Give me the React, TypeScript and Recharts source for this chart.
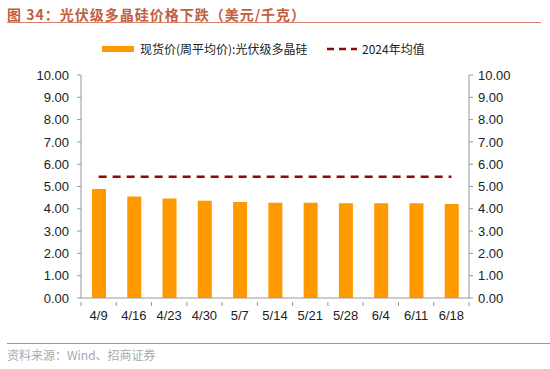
import React from "react";
import { Bar, ComposedChart, Line, XAxis, YAxis } from "recharts";

const weeks = ["4/9", "4/16", "4/23", "4/30", "5/7", "5/14", "5/21", "5/28", "6/4", "6/11", "6/18"];
const spotPrice = [4.89, 4.55, 4.46, 4.36, 4.3, 4.27, 4.27, 4.25, 4.25, 4.25, 4.21];
const avg2024 = 5.44;
const yTicks = [0, 1, 2, 3, 4, 5, 6, 7, 8, 9, 10];

const PLOT_LEFT = 81;
const PLOT_RIGHT = 469;
const BAND = (PLOT_RIGHT - PLOT_LEFT) / weeks.length;

const chartData = weeks.map((w, i) => ({ week: w, spot: spotPrice[i], avg: avg2024 }));

const font = "'Liberation Sans', Arial, sans-serif";
const cjk = "'Noto Sans CJK SC', sans-serif";

function WeekTick(props: any) {
  const { x, y, payload, index } = props;
  const left = x - BAND / 2;
  return (
    <g>
      <line x1={left} y1={y - 4} x2={left} y2={y} stroke="#999" />
      {index === weeks.length - 1 && (
        <line x1={x + BAND / 2} y1={y - 4} x2={x + BAND / 2} y2={y} stroke="#999" />
      )}
      <text x={x} y={y + 14} textAnchor="middle" fill="#222" fontSize={13} fontFamily={font}>
        {payload.value}
      </text>
    </g>
  );
}

export default function App() {
  return (
    <div style={{ position: "absolute", left: 0, top: 0, width: 550, height: 369, background: "#fff", fontFamily: font }}>
      <div style={{ position: "absolute", left: 7, top: 4, fontSize: 14, fontWeight: 700, color: "#C0603F", fontFamily: cjk, letterSpacing: 1 }}>
        图 34：光伏级多晶硅价格下跌（美元/千克）
      </div>
      <div style={{ position: "absolute", left: 7, right: 9, top: 22, borderTop: "1.5px solid #D9826A" }} />

      <div style={{ position: "absolute", left: 102, top: 40, display: "flex", alignItems: "center", fontSize: 12, color: "#222", fontFamily: cjk }}>
        <span style={{ display: "inline-block", width: 32, height: 6, background: "#FF9900", marginRight: 6 }} />
        现货价(周平均价):光伏级多晶硅
      </div>
      <div style={{ position: "absolute", left: 327, top: 40, display: "flex", alignItems: "center", fontSize: 12, color: "#222", fontFamily: cjk }}>
        <svg width={32} height={6} style={{ marginRight: 3 }}>
          <line x1={0} y1={3} x2={30} y2={3} stroke="#8B0A0A" strokeWidth={2.5} strokeDasharray="7 5" />
        </svg>
        2024年均值
      </div>

      <div style={{ position: "absolute", left: 0, top: 0 }}>
        <ComposedChart
          width={550}
          height={330}
          data={chartData}
          margin={{ top: 75, right: 0, left: 0, bottom: 7 }}
        >
          <XAxis
            dataKey="week"
            tick={<WeekTick />}
            tickLine={false}
            axisLine={{ stroke: "#999" }}
            height={25}
            interval={0}
          />
          <YAxis
            yAxisId="left"
            domain={[0, 10]}
            ticks={yTicks}
            width={PLOT_LEFT}
            tickFormatter={(v: number) => v.toFixed(2)}
            tick={{ fill: "#222", fontSize: 13, fontFamily: font }}
            tickLine={{ stroke: "#999" }}
            tickSize={4}
            tickMargin={8}
            axisLine={{ stroke: "#999" }}
            interval={0}
          />
          <YAxis
            yAxisId="right"
            orientation="right"
            domain={[0, 10]}
            ticks={yTicks}
            width={550 - PLOT_RIGHT}
            tickFormatter={(v: number) => v.toFixed(2)}
            tick={{ fill: "#222", fontSize: 13, fontFamily: font }}
            tickLine={{ stroke: "#999" }}
            tickSize={4}
            tickMargin={5}
            axisLine={{ stroke: "#999" }}
            interval={0}
          />
          <Bar yAxisId="left" dataKey="spot" fill="#FF9900" barSize={14} isAnimationActive={false} />
          <Line
            yAxisId="left"
            dataKey="avg"
            stroke="#8B0A0A"
            strokeWidth={2.5}
            strokeDasharray="8 6"
            dot={false}
            isAnimationActive={false}
          />
          {/* keeps the right axis alive; draws nothing visible */}
          <Line
            yAxisId="right"
            dataKey="avg"
            stroke="transparent"
            dot={false}
            activeDot={false}
            isAnimationActive={false}
          />
        </ComposedChart>
      </div>

      <div style={{ position: "absolute", left: 7, right: 0, top: 343, borderTop: "1.5px solid #D9826A" }} />
      <div style={{ position: "absolute", left: 7, top: 346, fontSize: 12, color: "#AAA", fontFamily: cjk }}>
        资料来源：Wind、招商证券
      </div>
    </div>
  );
}
